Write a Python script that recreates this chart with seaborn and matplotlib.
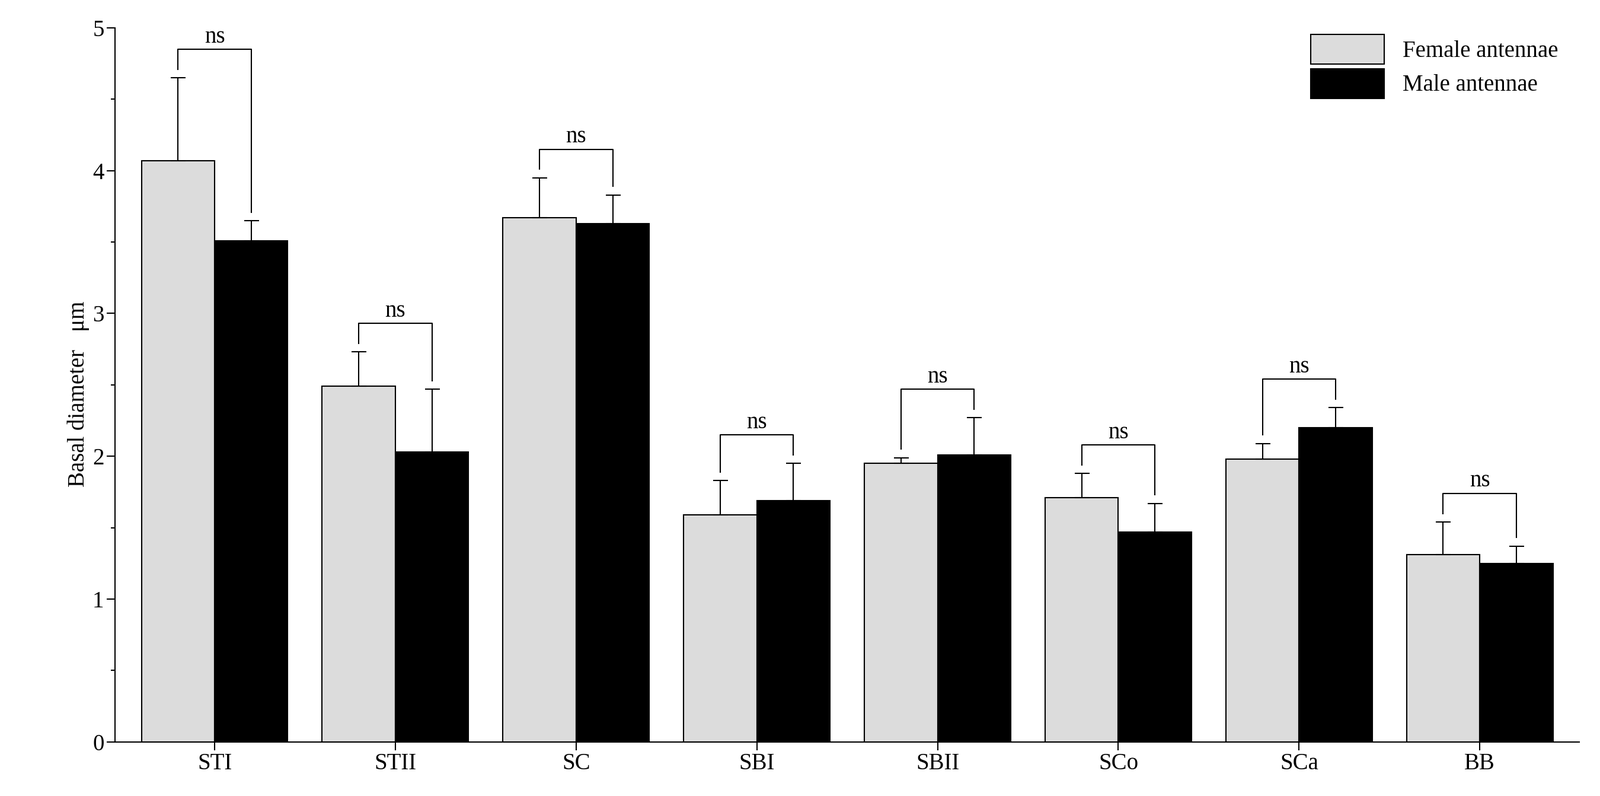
import matplotlib
matplotlib.use("Agg")
import matplotlib.pyplot as plt
import seaborn as sns
import pandas as pd
import numpy as np

categories = ["STI", "STII", "SC", "SBI", "SBII", "SCo", "SCa", "BB"]
female_mean = [4.07, 2.49, 3.67, 1.59, 1.95, 1.71, 1.98, 1.31]
female_err = [0.58, 0.24, 0.28, 0.24, 0.04, 0.17, 0.11, 0.23]
male_mean = [3.51, 2.03, 3.63, 1.69, 2.01, 1.47, 2.20, 1.25]
male_err = [0.14, 0.44, 0.20, 0.26, 0.26, 0.20, 0.14, 0.12]
series = ["Female antennae", "Male antennae"]
colors = {"Female antennae": "#dcdcdc", "Male antennae": "#000000"}

df = pd.DataFrame({
    "cat": categories * 2,
    "val": female_mean + male_mean,
    "sex": [series[0]] * len(categories) + [series[1]] * len(categories),
})

plt.rcParams["font.family"] = "Liberation Serif"
fig = plt.figure(figsize=(26.99, 13.42), dpi=100)
ax = fig.add_axes([0.072, 0.068, 0.915, 0.897])
sns.barplot(data=df, x="cat", y="val", hue="sex", palette=colors, width=0.81,
            edgecolor="black", linewidth=1.5, ax=ax, errorbar=None)

patches = [p for p in ax.patches if p.get_width() > 0][:16]
n = len(categories)
fx = [patches[i].get_x() + patches[i].get_width() / 2 for i in range(n)]
mx = [patches[n + i].get_x() + patches[n + i].get_width() / 2 for i in range(n)]
for xs, m, e in [(fx, female_mean, female_err), (mx, male_mean, male_err)]:
    ax.errorbar(xs, m, yerr=[np.zeros(n), e], fmt="none", ecolor="black",
                elinewidth=1.5, capsize=9, capthick=1.5)

for i in range(n):
    if categories[i] == "SC" or True:
        ft = female_mean[i] + female_err[i]
        mt = male_mean[i] + male_err[i]
        top = max(ft, mt) + 0.2
        ax.plot([fx[i], fx[i], mx[i], mx[i]], [ft + 0.06, top, top, mt + 0.06],
                color="black", lw=1.5)
        ax.text((fx[i] + mx[i]) / 2, top + 0.01, "ns", ha="center", va="bottom",
                fontsize=28)

ax.set_ylim(0, 5)
ax.set_xlim(-0.55, n - 0.45)
ax.set_yticks([0, 1, 2, 3, 4, 5])
ax.set_yticks(np.arange(0.5, 5, 1), minor=True)
ax.tick_params(axis="both", labelsize=28, width=1.5, length=10, direction="out")
ax.tick_params(axis="y", which="minor", width=1.5, length=5)
ax.set_xlabel("")
ax.set_ylabel("Basal diameter\uff08\u03bcm\uff09", fontsize=28, family=["Liberation Serif", "Noto Sans CJK SC"])
for s in ["top", "right"]:
    ax.spines[s].set_visible(False)
for s in ["left", "bottom"]:
    ax.spines[s].set_linewidth(1.5)

leg = ax.legend(loc="upper right", fontsize=28, frameon=False, handlelength=3.2,
                handleheight=1.6, bbox_to_anchor=(1.0, 1.02), labelspacing=0.2)
fig.savefig("out.png", dpi=100)
